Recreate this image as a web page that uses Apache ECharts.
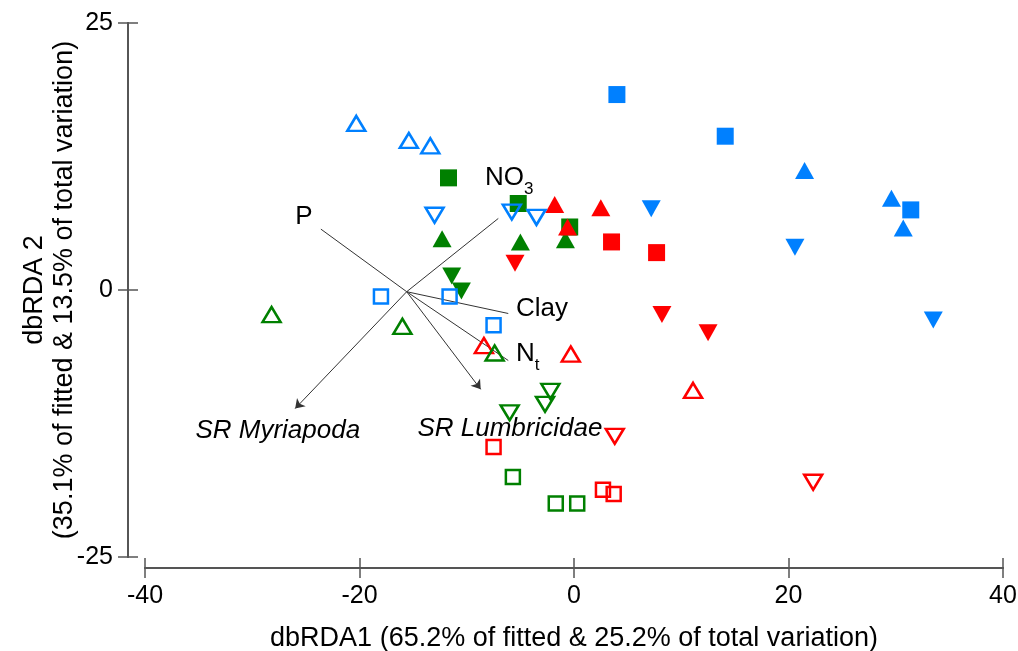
<!DOCTYPE html>
<html>
<head>
<meta charset="utf-8">
<script src="https://cdn.jsdelivr.net/npm/echarts@6/dist/echarts.min.js"></script>
<style>
  html, body { margin: 0; padding: 0; background: #fff; }
  #main { width: 1018px; height: 651px; }
</style>
</head>
<body>
<div id="main"></div>
<script>
// axis ranges / ticks
var xRange = [-40, 40], xStep = 20;
var yRange = [-25, 25], yStep = 25;
var xTitle = "dbRDA1 (65.2% of fitted & 25.2% of total variation)";
var yTitle = "dbRDA 2\n(35.1% of fitted & 13.5% of total variation)";

// sample scores (dbRDA1, dbRDA2)
var blueSquareFilled = [[4.0, 18.3], [14.1, 14.4], [31.4, 7.5]];
var blueUpFilled = [[21.5, 11.2], [29.6, 8.6], [30.7, 5.8]];
var blueDownFilled = [[7.2, 7.6], [20.6, 4.0], [33.5, -2.8]];
var blueSquareOpen = [[-18.0, -0.6], [-11.6, -0.6], [-7.5, -3.3]];
var blueUpOpen = [[-20.3, 15.6], [-15.4, 14.0], [-13.4, 13.5]];
var blueDownOpen = [[-13.0, 7.0], [-5.8, 7.3], [-3.5, 6.8]];
var greenSquareFilled = [[-11.7, 10.5], [-5.2, 8.1], [-0.4, 5.9]];
var greenUpFilled = [[-12.3, 4.8], [-5.0, 4.5], [-0.8, 4.7]];
var greenDownFilled = [[-11.4, 1.3], [-10.5, -0.1]];
var greenSquareOpen = [[-5.7, -17.5], [-1.7, -20.0], [0.3, -20.0]];
var greenUpOpen = [[-28.2, -2.3], [-16.0, -3.4], [-7.4, -5.9]];
var greenDownOpen = [[-2.2, -9.5], [-2.7, -10.7], [-6.0, -11.5]];
var redSquareFilled = [[3.5, 4.5], [7.7, 3.5]];
var redUpFilled = [[-1.8, 8.0], [2.5, 7.7], [-0.6, 5.9]];
var redDownFilled = [[-5.5, 2.5], [8.2, -2.3], [12.5, -4.0]];
var redSquareOpen = [[-7.5, -14.7], [2.7, -18.7], [3.7, -19.1]];
var redUpOpen = [[-8.4, -5.2], [-0.3, -6.0], [11.1, -9.4]];
var redDownOpen = [[3.8, -13.7], [22.3, -18.0]];

// biplot vectors
var vectorOrigin = [-15.6, -0.16];
var vectorNames = ["P", "NO", "Clay", "N", "SR Myriapoda", "SR Lumbricidae"];
var vectorSubs = ["", "3", "", "t", "", ""];
var vectorEnds = [[-23.6, 5.7], [-7.06, 6.7], [-6.13, -2.2], [-6.13, -6.6], [-26.0, -11.1], [-8.7, -9.3]];
var vectorLabelAt = [[-26.0, 6.87], [-8.29, 10.54], [-5.41, -1.78], [-5.41, -6.0], [-35.3, -13.2], [-14.6, -13.0]];
var isSpecies = [false, false, false, false, true, true];

var BLUE = "#0080ff", GREEN = "#008000", RED = "#ff0000";
var FONT = "Liberation Sans, Arial, sans-serif";

var groups = [
  { d: greenSquareFilled, c: GREEN, s: "square", f: true },
  { d: greenUpFilled, c: GREEN, s: "up", f: true },
  { d: greenDownFilled, c: GREEN, s: "down", f: true },
  { d: redSquareFilled, c: RED, s: "square", f: true },
  { d: redUpFilled, c: RED, s: "up", f: true },
  { d: redDownFilled, c: RED, s: "down", f: true },
  { d: blueSquareFilled, c: BLUE, s: "square", f: true },
  { d: blueUpFilled, c: BLUE, s: "up", f: true },
  { d: blueDownFilled, c: BLUE, s: "down", f: true },
  { d: redSquareOpen, c: RED, s: "square", f: false },
  { d: redUpOpen, c: RED, s: "up", f: false },
  { d: redDownOpen, c: RED, s: "down", f: false },
  { d: blueSquareOpen, c: BLUE, s: "square", f: false },
  { d: blueUpOpen, c: BLUE, s: "up", f: false },
  { d: blueDownOpen, c: BLUE, s: "down", f: false },
  { d: greenSquareOpen, c: GREEN, s: "square", f: false },
  { d: greenUpOpen, c: GREEN, s: "up", f: false },
  { d: greenDownOpen, c: GREEN, s: "down", f: false }
];

var series = [];

// vector lines
vectorEnds.forEach(function (end, i) {
  series.push({
    type: "lines",
    coordinateSystem: "cartesian2d",
    silent: true,
    symbol: isSpecies[i] ? ["none", "arrow"] : ["none", "none"],
    symbolSize: 9,
    lineStyle: { color: "#333", width: 1, opacity: 1 },
    data: [{ coords: [vectorOrigin, end] }],
    z: 2
  });
});

// points
groups.forEach(function (g) {
  var size = g.s === "square" ? (g.f ? 17 : 14) : (g.f ? [19, 17] : [18, 15]);
  series.push({
    type: "scatter",
    symbol: g.s === "square" ? "rect" : "triangle",
    symbolRotate: g.s === "down" ? 180 : 0,
    symbolSize: size,
    itemStyle: g.f
      ? { color: g.c, opacity: 1 }
      : { color: "rgba(0,0,0,0)", borderColor: g.c, borderWidth: 2.5, opacity: 1 },
    data: g.d,
    z: 3
  });
});

// vector labels
series.push({
  type: "scatter",
  symbolSize: 0,
  silent: true,
  z: 4,
  itemStyle: { opacity: 1 },
  data: vectorLabelAt.map(function (p, i) { return [p[0], p[1], i]; }),
  label: {
    show: true,
    position: "right",
    distance: 0,
    color: "#000",
    opacity: 1,
    fontFamily: FONT,
    formatter: function (p) {
      var i = p.data[2];
      if (isSpecies[i]) return "{i|" + vectorNames[i] + "}";
      if (vectorSubs[i]) return "{a|" + vectorNames[i] + "}{s|" + vectorSubs[i] + "}";
      return "{a|" + vectorNames[i] + "}";
    },
    rich: {
      a: { fontSize: 26, lineHeight: 40, color: "#000", fontFamily: FONT },
      s: { fontSize: 17, lineHeight: 17, verticalAlign: "bottom", color: "#000", fontFamily: FONT },
      i: { fontSize: 26, fontStyle: "italic", color: "#000", fontFamily: FONT }
    }
  }
});

var axisLine = { show: true, onZero: false, lineStyle: { color: "#555", width: 1.8 } };
var tickStyle = { color: "#555", width: 1.5 };

function xAxisDef(inside) {
  return {
    type: "value", min: xRange[0], max: xRange[1], interval: xStep,
    position: "bottom", offset: 11,
    axisLine: axisLine,
    axisTick: { show: true, inside: inside, length: 10, lineStyle: tickStyle },
    axisLabel: { show: !inside, margin: 16, fontSize: 25, color: "#000", fontFamily: FONT },
    splitLine: { show: false },
    name: inside ? "" : xTitle,
    nameLocation: "middle", nameGap: 57,
    nameTextStyle: { fontSize: 27, color: "#000", fontFamily: FONT }
  };
}
function yAxisDef(inside) {
  return {
    type: "value", min: yRange[0], max: yRange[1], interval: yStep,
    position: "left", offset: 17,
    axisLine: axisLine,
    axisTick: { show: true, inside: inside, length: 10, lineStyle: tickStyle },
    axisLabel: { show: !inside, margin: 15, fontSize: 25, color: "#000", fontFamily: FONT },
    splitLine: { show: false },
    name: inside ? "" : yTitle,
    nameLocation: "middle", nameRotate: 90, nameGap: 48, nameMoveOverlap: false,
    nameTextStyle: { fontSize: 27, lineHeight: 30, color: "#000", fontFamily: FONT }
  };
}

var chart = echarts.init(document.getElementById("main"), null, { renderer: "canvas" });
chart.setOption({
  animation: false,
  backgroundColor: "#fff",
  grid: { left: 145, right: 15, top: 23, bottom: 94, containLabel: false, outerBoundsMode: "none" },
  xAxis: [xAxisDef(false), xAxisDef(true)],
  yAxis: [yAxisDef(false), yAxisDef(true)],
  series: series
});
</script>
</body>
</html>
